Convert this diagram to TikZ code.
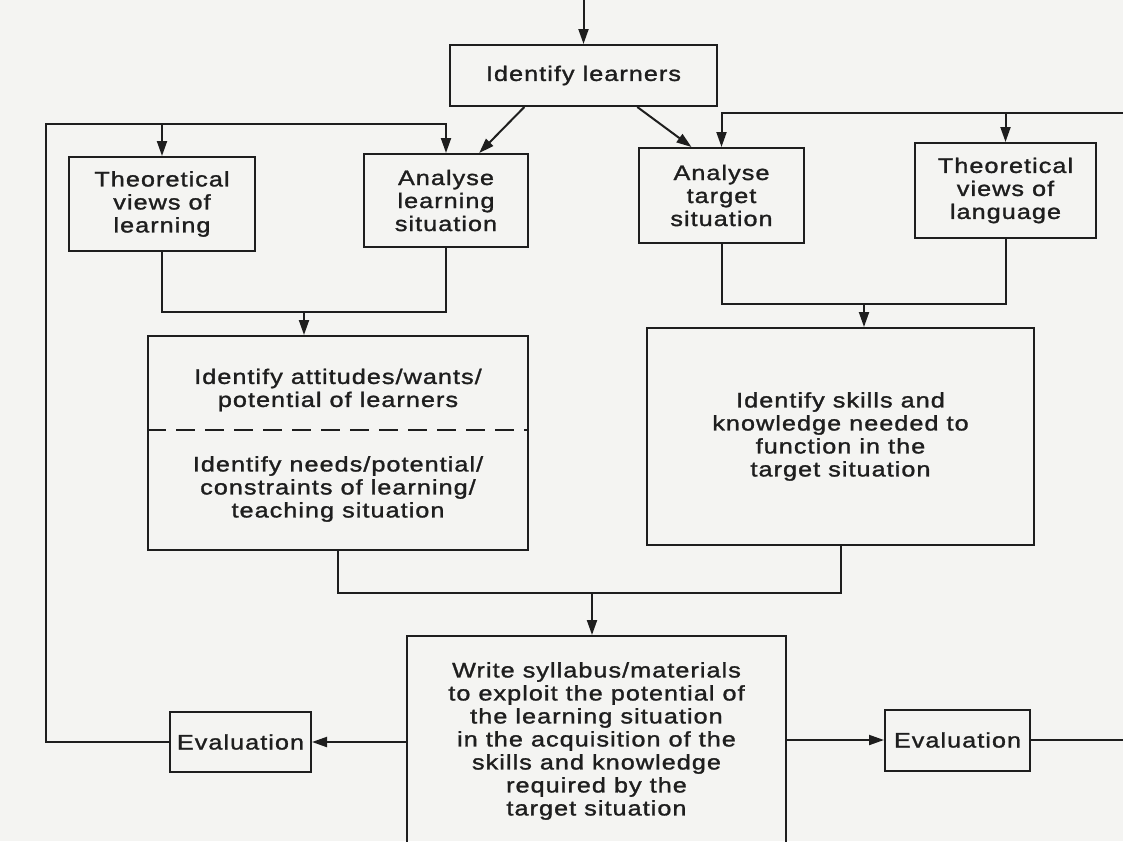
\documentclass[tikz,border=0pt]{standalone}
\usepackage{fontspec}
\setmainfont{Liberation Sans}[FakeStretch=1.2,LetterSpace=5,FakeBold=1.4]
\usetikzlibrary{arrows.meta,calc}
\definecolor{ink}{HTML}{1E1E1E}
\definecolor{paper}{HTML}{F4F4F2}
\newcommand{\diafont}{\fontsize{21}{23}\selectfont}
\begin{document}
\begin{tikzpicture}[x=1pt,y=-1pt,
  box/.style={draw=ink, line width=2pt, align=center, inner sep=0pt, text=ink, font=\diafont},
  txt/.style={align=center, inner sep=0pt, text=ink, font=\diafont},
  conn/.style={draw=ink, line width=2pt},
  arr/.style={conn, -{Triangle[length=15pt,width=10pt]}}]
\useasboundingbox (0,0) rectangle (1123,841);
\clip (0,0) rectangle (1123,841);
\fill[paper] (0,0) rectangle (1123,841);

% nodes
\node[box, minimum width=267pt, minimum height=61pt] (IL) at (583.5,75.5) {Identify learners};
\node[box, minimum width=186pt, minimum height=94pt] (TVL) at (162,204) {Theoretical\\views of\\learning};
\node[box, minimum width=164pt, minimum height=93pt] (AL) at (446,200.5) {Analyse\\learning\\situation};
\node[box, minimum width=165pt, minimum height=95pt] (AT) at (721.5,195.5) {Analyse\\target\\situation};
\node[box, minimum width=181pt, minimum height=95pt] (TLG) at (1005.5,190.5) {Theoretical\\views of\\language};
\node[box, minimum width=380pt, minimum height=214pt] (ATT) at (338,443) {};
\node[txt] (ATTa) at (338,390) {Identify attitudes/wants/\\potential of learners};
\node[txt] (ATTb) at (338,489) {Identify needs/potential/\\constraints of learning/\\teaching situation};
\coordinate (dashy) at (0,430);
\draw[draw=ink, line width=1.7pt, dash pattern=on 19pt off 10pt] (ATT.west |- dashy) -- (ATT.east |- dashy);
\node[box, minimum width=387pt, minimum height=217pt] (SK) at (840.5,436.5) {Identify skills and\\knowledge needed to\\function in the\\target situation};
\node[box, minimum width=379pt, minimum height=210pt] (SY) at (596.5,741) {Write syllabus/materials\\to exploit the potential of\\the learning situation\\in the acquisition of the\\skills and knowledge\\required by the\\target situation};
\node[box, minimum width=141pt, minimum height=60pt] (EL) at (240.5,742) {Evaluation};
\node[box, minimum width=145pt, minimum height=61pt] (ER) at (957.5,740) {Evaluation};

% entry arrow
\coordinate (topin) at (583.5,0);
\draw[arr] (topin) -- (IL.north);

% diagonals from Identify learners
\draw[arr] ($(IL.south west)!0.28!(IL.south east)$) -- ($(AL.north west)!0.70!(AL.north east)$);
\draw[arr] ($(IL.south west)!0.70!(IL.south east)$) -- ($(AT.north west)!0.32!(AT.north east)$);

% left feedback loop
\coordinate (fbL) at (46,124);
\draw[arr] (EL.west) -| (fbL) -| (AL.north);
\draw[arr] (TVL.north |- fbL) -- (TVL.north);

% right incoming line
\coordinate (fbR) at (1123,113);
\draw[arr] (fbR) -| (AT.north);
\draw[arr] (TLG.north |- fbR) -- (TLG.north);

% merges
\coordinate (mL) at (304,312);
\draw[conn] (TVL.south) |- (mL) -| (AL.south);
\draw[arr] (mL) -- (mL |- ATT.north);

\coordinate (mR) at (864,304);
\draw[conn] (AT.south) |- (mR) -| (TLG.south);
\draw[arr] (mR) -- (mR |- SK.north);

\coordinate (mB) at (592,593);
\draw[conn] (ATT.south) |- (mB) -| (SK.south);
\draw[arr] (mB) -- (mB |- SY.north);

% evaluation
\draw[arr] (SY.west |- EL.east) -- (EL.east);
\draw[arr] (SY.east |- ER.west) -- (ER.west);
\coordinate (outR) at (1123,740);
\draw[conn] (ER.east) -- (outR);
\end{tikzpicture}
\end{document}
